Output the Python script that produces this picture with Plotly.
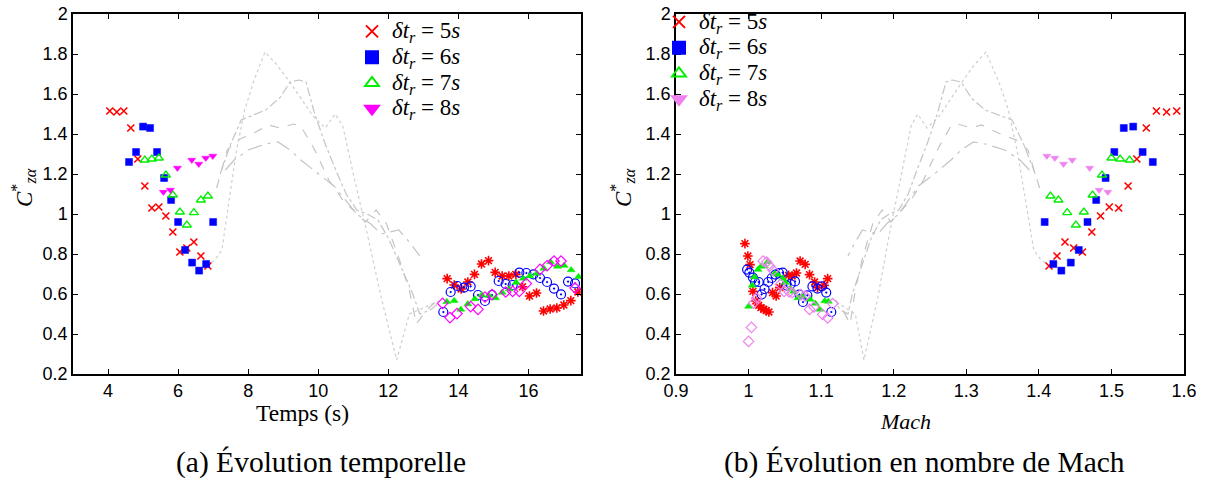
import plotly.graph_objects as go

# ---------------- data: left cluster (t = 4..7 s) ----------------
t5 = [4.05, 4.25, 4.45, 4.65, 4.85, 5.05, 5.25, 5.45, 5.65, 5.85, 6.05, 6.25, 6.45, 6.65, 6.85]
c5 = [1.515, 1.51, 1.515, 1.43, 1.275, 1.14, 1.03, 1.035, 0.99, 0.91, 0.81, 0.83, 0.86, 0.79, 0.74]
m5 = [1.590, 1.576, 1.562, 1.548, 1.535, 1.523, 1.510, 1.497, 1.485, 1.473, 1.460, 1.448, 1.436, 1.425, 1.414]

t6 = [4.6, 4.8, 5.0, 5.2, 5.4, 5.6, 5.8, 6.0, 6.2, 6.4, 6.6, 6.8, 7.0]
c6 = [1.26, 1.31, 1.437, 1.43, 1.31, 1.18, 1.07, 0.96, 0.82, 0.757, 0.717, 0.75, 0.96]
m6 = [1.557, 1.543, 1.530, 1.517, 1.504, 1.492, 1.479, 1.467, 1.455, 1.444, 1.431, 1.420, 1.408]

t7 = [5.05, 5.25, 5.45, 5.65, 5.85, 6.05, 6.25, 6.45, 6.65, 6.85]
c7 = [1.27, 1.275, 1.28, 1.195, 1.095, 1.01, 0.945, 1.007, 1.07, 1.09]
m7 = [1.525, 1.512, 1.500, 1.487, 1.474, 1.462, 1.451, 1.439, 1.427, 1.416]

t8 = [5.58, 5.78, 5.98, 6.39, 6.59, 6.79, 6.99]
c8 = [1.11, 1.12, 1.23, 1.27, 1.25, 1.28, 1.29]
m8 = [1.495, 1.483, 1.470, 1.446, 1.434, 1.422, 1.411]

# ---------------- data: right cluster, time axis ----------------
ta = [13.68, 13.88, 14.08, 14.27, 14.46, 14.66, 14.86, 15.05, 15.25, 15.44, 15.64, 15.83, 16.03, 16.23, 16.43, 16.62, 16.81, 17.01, 17.21, 17.41]
ca = [0.677, 0.645, 0.625, 0.66, 0.698, 0.75, 0.767, 0.708, 0.69, 0.69, 0.698, 0.636, 0.59, 0.605, 0.515, 0.525, 0.53, 0.545, 0.567, 0.61]

tb = [13.57, 13.78, 13.97, 14.16, 14.35, 14.56, 14.76, 14.96, 15.15, 15.35, 15.55, 15.74, 15.94, 16.14, 16.33, 16.53, 16.73, 16.93, 17.13, 17.33]
cb = [0.51, 0.61, 0.64, 0.632, 0.638, 0.595, 0.565, 0.595, 0.665, 0.65, 0.645, 0.707, 0.705, 0.698, 0.68, 0.66, 0.627, 0.598, 0.662, 0.653]

tg = [13.67, 13.88, 14.07, 14.27, 14.47, 14.67, 14.87, 15.06, 15.25, 15.45, 15.65, 15.85, 16.04, 16.24, 16.44, 16.63, 16.83, 17.02, 17.22, 17.43]
cg = [0.561, 0.566, 0.523, 0.55, 0.575, 0.595, 0.593, 0.58, 0.608, 0.625, 0.658, 0.678, 0.69, 0.703, 0.728, 0.76, 0.738, 0.742, 0.72, 0.686]

td = [13.55, 13.76, 13.96, 14.35, 14.56, 14.76, 14.96, 15.35, 15.55, 15.74, 15.94, 16.33, 16.53, 16.73, 16.93, 17.33]
cd = [0.553, 0.482, 0.502, 0.537, 0.523, 0.585, 0.597, 0.61, 0.613, 0.613, 0.652, 0.723, 0.741, 0.765, 0.765, 0.63]

# ---------------- data: right cluster, Mach axis ----------------
ma = [0.995, 0.999, 1.002, 1.006, 1.010, 1.014, 1.017, 1.021, 1.024, 1.028, 1.033, 1.038, 1.043, 1.055, 1.060, 1.066, 1.071, 1.078, 1.084, 1.091, 1.095, 1.104, 1.109]
cma = [0.852, 0.79, 0.747, 0.613, 0.565, 0.543, 0.532, 0.523, 0.518, 0.51, 0.607, 0.59, 0.632, 0.693, 0.69, 0.705, 0.765, 0.748, 0.697, 0.66, 0.632, 0.643, 0.677]

mb = [0.998, 1.001, 1.006, 1.009, 1.014, 1.018, 1.022, 1.027, 1.032, 1.037, 1.042, 1.047, 1.052, 1.058, 1.064, 1.070, 1.075, 1.081, 1.088, 1.095, 1.101, 1.107, 1.114]
cmb = [0.722, 0.707, 0.682, 0.66, 0.66, 0.598, 0.625, 0.66, 0.68, 0.697, 0.705, 0.707, 0.643, 0.65, 0.663, 0.597, 0.56, 0.593, 0.638, 0.627, 0.638, 0.607, 0.51]

mg = [1.000, 1.005, 1.008, 1.013, 1.017, 1.022, 1.026, 1.036, 1.040, 1.047, 1.051, 1.057, 1.062, 1.068, 1.074, 1.085, 1.092, 1.098, 1.105, 1.110]
cmg = [0.538, 0.643, 0.685, 0.722, 0.738, 0.74, 0.76, 0.702, 0.698, 0.677, 0.657, 0.627, 0.613, 0.58, 0.59, 0.573, 0.552, 0.523, 0.565, 0.563]

md = [1.000, 1.004, 1.007, 1.011, 1.020, 1.025, 1.029, 1.034, 1.044, 1.049, 1.056, 1.060, 1.072, 1.078, 1.084, 1.090, 1.102, 1.109, 1.116]
cmd = [0.363, 0.433, 0.555, 0.58, 0.765, 0.76, 0.74, 0.718, 0.648, 0.613, 0.61, 0.607, 0.597, 0.59, 0.523, 0.535, 0.498, 0.48, 0.552]

# ---------------- data: grey reference curves ----------------
dot_t = [6.82, 7.05, 7.25, 7.45, 7.65, 7.90, 8.15, 8.48, 8.80, 9.15, 9.50, 9.85, 10.20, 10.48, 10.70, 11.00, 11.40, 11.80, 12.24, 12.60, 13.00, 13.50]
dot_m = [1.416, 1.403, 1.393, 1.382, 1.371, 1.358, 1.345, 1.327, 1.312, 1.296, 1.279, 1.263, 1.246, 1.233, 1.224, 1.211, 1.194, 1.178, 1.159, 1.147, 1.133, 1.116]
dot_c = [0.74, 0.77, 0.82, 1.05, 1.30, 1.52, 1.66, 1.81, 1.75, 1.67, 1.58, 1.49, 1.43, 1.50, 1.44, 1.20, 0.90, 0.58, 0.27, 0.50, 0.53, 0.57]

dd1_t = [7.2, 7.5, 7.8, 8.1, 8.5, 8.9, 9.2, 9.45, 9.65, 9.9, 10.2, 10.5, 10.8, 11.1, 11.4, 11.7, 12.0, 12.4, 12.7, 12.9, 13.2, 13.4]
dd1_m = [1.395, 1.379, 1.363, 1.347, 1.326, 1.307, 1.293, 1.281, 1.272, 1.260, 1.246, 1.232, 1.220, 1.207, 1.194, 1.182, 1.169, 1.154, 1.143, 1.137, 1.127, 1.120]
dd1_c = [1.20, 1.35, 1.47, 1.49, 1.52, 1.58, 1.66, 1.67, 1.66, 1.50, 1.35, 1.22, 1.10, 1.02, 1.00, 0.97, 0.88, 0.72, 0.60, 0.50, 0.52, 0.55]

dash_t = [7.1, 7.4, 7.7, 8.1, 8.6, 8.9, 9.3, 9.5, 9.9, 10.3, 10.7, 11.1, 11.35, 11.65, 11.95, 12.3, 12.6, 12.8, 13.1, 13.4]
dash_m = [1.401, 1.385, 1.369, 1.347, 1.321, 1.307, 1.288, 1.279, 1.260, 1.241, 1.224, 1.207, 1.196, 1.184, 1.171, 1.157, 1.147, 1.140, 1.130, 1.120]
dash_c = [1.13, 1.32, 1.37, 1.40, 1.445, 1.43, 1.45, 1.44, 1.32, 1.17, 1.07, 1.00, 0.96, 1.02, 0.95, 0.78, 0.62, 0.45, 0.52, 0.57]

dd2_t = [7.35, 7.6, 8.0, 8.5, 8.85, 9.2, 9.5, 10.0, 10.45, 11.1, 11.5, 11.8, 12.3, 12.6, 12.9]
dd2_m = [1.387, 1.374, 1.353, 1.326, 1.310, 1.293, 1.279, 1.256, 1.234, 1.207, 1.190, 1.178, 1.157, 1.147, 1.137]
dd2_c = [1.22, 1.27, 1.32, 1.35, 1.36, 1.32, 1.27, 1.20, 1.14, 1.00, 0.95, 0.90, 0.92, 0.86, 0.79]

# ---------------- ticks / labels ----------------
y_ticks = [0.2, 0.4, 0.6, 0.8, 1.0, 1.2, 1.4, 1.6, 1.8, 2.0]
y_labels = ["0.2", "0.4", "0.6", "0.8", "1", "1.2", "1.4", "1.6", "1.8", "2"]
t_ticks = [4, 6, 8, 10, 12, 14, 16]
m_ticks = [0.9, 1.0, 1.1, 1.2, 1.3, 1.4, 1.5, 1.6]
m_labels = ["0.9", "1", "1.1", "1.2", "1.3", "1.4", "1.5", "1.6"]
dt_values = ["5", "6", "7", "8"]
legend_names = [f'<span style="font-size:23px"><i>δt<sub>r</sub></i> = {d}<i>s</i></span>' for d in dt_values]

fig = go.Figure()

# grey curves
curve_styles = [("dot", "#cfcfcf"), ("dashdot", "#c4c4c4"), ("dash", "#c4c4c4"), ("longdashdot", "#c4c4c4")]
curves = [(dot_t, dot_m, dot_c), (dd1_t, dd1_m, dd1_c), (dash_t, dash_m, dash_c), (dd2_t, dd2_m, dd2_c)]
for (ct, cm, cv), (dsh, col) in zip(curves, curve_styles):
    fig.add_trace(go.Scatter(x=ct, y=cv, mode="lines", line=dict(color=col, width=1.2, dash=dsh),
                             showlegend=False, xaxis="x", yaxis="y", hoverinfo="skip"))
    fig.add_trace(go.Scatter(x=cm, y=cv, mode="lines", line=dict(color=col, width=1.2, dash=dsh),
                             showlegend=False, xaxis="x2", yaxis="y2", hoverinfo="skip"))

def mk(symbol, color, size, lw=1.3):
    return dict(symbol=symbol, color=color, size=size, line=dict(color=color, width=lw))

# right clusters (no legend)
fig.add_trace(go.Scatter(x=ta, y=ca, mode="markers", marker=mk("asterisk-open", "#ff0000", 8, 1.6), showlegend=False, xaxis="x", yaxis="y"))
fig.add_trace(go.Scatter(x=tb, y=cb, mode="markers", marker=mk("circle-open-dot", "#0000ff", 9, 1.2), showlegend=False, xaxis="x", yaxis="y"))
fig.add_trace(go.Scatter(x=tg, y=cg, mode="markers", marker=mk("triangle-up", "#00ee00", 7, 0.5), showlegend=False, xaxis="x", yaxis="y"))
fig.add_trace(go.Scatter(x=td, y=cd, mode="markers", marker=mk("diamond-open", "#ff00ff", 8, 1.2), showlegend=False, xaxis="x", yaxis="y"))

fig.add_trace(go.Scatter(x=ma, y=cma, mode="markers", marker=mk("asterisk-open", "#ff0000", 8, 1.6), showlegend=False, xaxis="x2", yaxis="y2"))
fig.add_trace(go.Scatter(x=mb, y=cmb, mode="markers", marker=mk("circle-open-dot", "#0000ff", 9, 1.2), showlegend=False, xaxis="x2", yaxis="y2"))
fig.add_trace(go.Scatter(x=mg, y=cmg, mode="markers", marker=mk("triangle-up", "#00ee00", 7, 0.5), showlegend=False, xaxis="x2", yaxis="y2"))
fig.add_trace(go.Scatter(x=md, y=cmd, mode="markers", marker=mk("diamond-open", "#ee82ee", 8, 1.2), showlegend=False, xaxis="x2", yaxis="y2"))

# left clusters (with legends)
left_series = [(t5, m5, c5, "x-thin-open", "#ff0000", "#ff0000", 7, 1.6),
               (t6, m6, c6, "square", "#0000ff", "#0000ff", 7, 0.5),
               (t7, m7, c7, "triangle-up-open", "#00ee00", "#00ee00", 8, 1.3),
               (t8, m8, c8, "triangle-down", "#ff00ff", "#ee82ee", 7, 0.5)]
for i, (tt, mm, cc, sym, col1, col2, sz, lw) in enumerate(left_series):
    fig.add_trace(go.Scatter(x=tt, y=cc, mode="markers", marker=mk(sym, col1, sz, lw), name=legend_names[i],
                             xaxis="x", yaxis="y", legend="legend"))
    fig.add_trace(go.Scatter(x=mm, y=cc, mode="markers", marker=mk(sym, col2, sz, lw), name=legend_names[i],
                             xaxis="x2", yaxis="y2", legend="legend2"))

W, H = 1206, 481

def PX(p):
    return p / W

def PY(p):
    return 1 - p / H

ydom = [PY(374), PY(14)]
tickfont = dict(family="Liberation Sans", size=18, color="black")
axis_common = dict(showline=True, linecolor="black", linewidth=1.5, mirror="ticks", ticks="inside",
                   ticklen=5, tickwidth=1.2, tickcolor="black", showgrid=False, zeroline=False,
                   tickfont=tickfont, automargin=False, ticklabeloverflow="allow")

legend_font = dict(family="Liberation Serif", size=17.5, color="black")
fig.update_layout(
    width=W, height=H, margin=dict(l=0, r=0, t=0, b=0, pad=0, autoexpand=False),
    paper_bgcolor="white", plot_bgcolor="white",
    xaxis=dict(domain=[PX(73), PX(581)], range=[3, 17.5], tickvals=t_ticks, anchor="y", **axis_common),
    yaxis=dict(domain=ydom, range=[0.2, 2.0], tickvals=y_ticks, ticktext=y_labels, anchor="x", **axis_common),
    xaxis2=dict(domain=[PX(676), PX(1184)], range=[0.9, 1.6], tickvals=m_ticks, ticktext=m_labels, anchor="y2", **axis_common),
    yaxis2=dict(domain=ydom, range=[0.2, 2.0], tickvals=y_ticks, ticktext=y_labels, anchor="x2", **axis_common),
    legend=dict(x=PX(352), y=PY(13.5), xanchor="left", yanchor="top", bgcolor="rgba(0,0,0,0)",
                font=legend_font, itemsizing="constant"),
    legend2=dict(x=PX(659), y=PY(4), xanchor="left", yanchor="top", bgcolor="rgba(0,0,0,0)",
                 font=legend_font, itemsizing="constant"),
    showlegend=True,
)

serif = "Liberation Serif"
ann = [
    dict(x=PX(302), y=PY(413), text="Temps (s)", font=dict(family=serif, size=23.5)),
    dict(x=PX(905), y=PY(421), text="<i>Mach</i>", font=dict(family=serif, size=22)),
    dict(x=PX(321), y=PY(462), text="(a) Évolution temporelle", font=dict(family=serif, size=29.5)),
    dict(x=PX(924), y=PY(462), text="(b) Évolution en nombre de Mach", font=dict(family=serif, size=29.5)),
    dict(x=PX(23), y=PY(188), text="<i>C</i><sup>*</sup><sub><i>zα</i></sub>", textangle=-90, font=dict(family=serif, size=23)),
    dict(x=PX(622), y=PY(188), text="<i>C</i><sup>*</sup><sub><i>zα</i></sub>", textangle=-90, font=dict(family=serif, size=23)),
]
for a in ann:
    a.update(xref="paper", yref="paper", showarrow=False, xanchor="center", yanchor="middle")
    a["font"]["color"] = "black"
fig.update_layout(annotations=ann)

# the page's default 8 px body margin would offset the figure; remove it
fig.write_html("out.html", config={"displayModeBar": False},
               post_script="document.body.style.margin='0';document.body.style.overflow='hidden';")
